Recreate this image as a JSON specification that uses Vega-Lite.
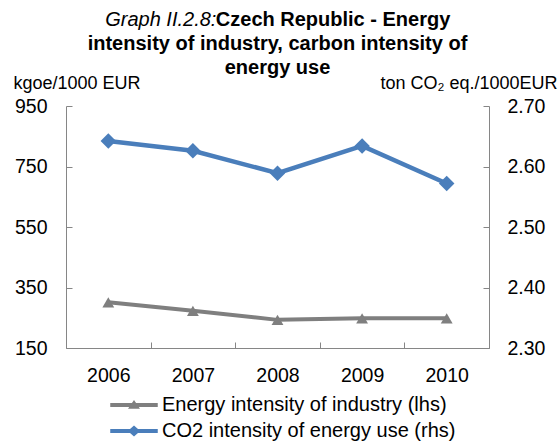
{
  "$schema": "https://vega.github.io/schema/vega-lite/v6.json",
  "width": 423,
  "height": 242,
  "autosize": "none",
  "padding": {"left": 66, "top": 106, "right": 69, "bottom": 96},
  "background": "white",
  "config": {
    "font": "Liberation Sans",
    "view": {"stroke": null},
    "axis": {
      "grid": false,
      "domainColor": "#868686",
      "tickColor": "#868686",
      "labelColor": "#000000",
      "labelFontSize": 19.5,
      "titleFontSize": 18,
      "titleFontWeight": "normal",
      "titleColor": "#000000"
    }
  },
  "title": {
    "text": "Graph II.2.8:\u00a0\u00a0\u00a0\u00a0\u00a0\u00a0\u00a0\u00a0\u00a0\u00a0\u00a0\u00a0\u00a0\u00a0\u00a0\u00a0\u00a0\u00a0\u00a0\u00a0\u00a0\u00a0\u00a0\u00a0\u00a0\u00a0\u00a0\u00a0\u00a0\u00a0\u00a0\u00a0\u00a0\u00a0\u00a0\u00a0\u00a0\u00a0\u00a0\u00a0\u00a0\u00a0\u200b",
    "subtitle": [
      "\u200b\u00a0\u00a0\u00a0\u00a0\u00a0\u00a0\u00a0\u00a0\u00a0\u00a0\u00a0\u00a0\u00a0\u00a0\u00a0\u00a0\u00a0\u00a0\u00a0\u00a0Czech Republic - Energy",
      "intensity of industry, carbon intensity of",
      "energy use"
    ],
    "fontSize": 20,
    "fontStyle": "italic",
    "fontWeight": "normal",
    "color": "#000000",
    "subtitleFontSize": 20,
    "subtitleFontWeight": "bold",
    "subtitleFontStyle": "normal",
    "subtitleColor": "#000000",
    "subtitlePadding": -20,
    "subtitleLineHeight": 24,
    "anchor": "middle",
    "frame": "group",
    "offset": -4
  },
  "data": {
    "values": [
      {"year": "2006", "energy": 301, "co2": 2.642},
      {"year": "2007", "energy": 273, "co2": 2.626},
      {"year": "2008", "energy": 243, "co2": 2.589},
      {"year": "2009", "energy": 248, "co2": 2.634},
      {"year": "2010", "energy": 248, "co2": 2.572}
    ]
  },
  "encoding": {
    "x": {
      "field": "year",
      "type": "ordinal",
      "scale": {"type": "band", "paddingInner": 0, "paddingOuter": 0},
      "bandPosition": 0.5,
      "axis": {
        "title": null,
        "labelAngle": 0,
        "tickBand": "extent",
        "tickSize": -6,
        "labelPadding": 24
      }
    }
  },
  "layer": [
    {
      "mark": {
        "type": "line",
        "strokeWidth": 4,
        "point": {"shape": "triangle-up", "size": 140, "filled": true, "opacity": 1}
      },
      "encoding": {
        "y": {
          "field": "energy",
          "type": "quantitative",
          "scale": {"domain": [150, 950], "nice": false, "zero": false},
          "axis": {
            "orient": "left",
            "values": [150, 350, 550, 750, 950],
            "title": "kgoe/1000 EUR",
            "titleAngle": 0,
            "titleAlign": "left",
            "titleBaseline": "alphabetic",
            "titleX": -53,
            "titleY": -18,
            "tickSize": -6,
            "labelPadding": 25
          }
        },
        "color": {
          "datum": "Energy intensity of industry (lhs)",
          "type": "nominal",
          "scale": {
            "domain": ["Energy intensity of industry (lhs)", "CO2 intensity of energy use (rhs)"],
            "range": ["#7F7F7F", "#4A7EBB"]
          },
          "legend": {
            "orient": "none",
            "legendX": 55.5,
            "legendY": 286.5,
            "direction": "vertical",
            "title": null,
            "padding": 0,
            "rowPadding": 3,
            "labelFontSize": 20,
            "labelColor": "#000000",
            "labelLimit": 0,
            "labelOffset": 15.5,
            "symbolSize": 625,
            "encoding": {
              "symbols": {
                "shape": {"value": {"expr": "datum.value === 'Energy intensity of industry (lhs)' ? 'M-1.9,-0.16L1.9,-0.16L1.9,0.16L-1.9,0.16Z M-0.48,0.3L0,-0.4L0.48,0.3Z' : 'M-1.9,-0.16L1.9,-0.16L1.9,0.16L-1.9,0.16Z M-0.5,0L0,-0.44L0.5,0L0,0.44Z'"}},
                "fill": {"value": {"expr": "datum.value === 'Energy intensity of industry (lhs)' ? '#7F7F7F' : '#4A7EBB'"}},
                "strokeWidth": {"value": 0},
                "opacity": {"value": 1}
              }
            }
          }
        }
      }
    },
    {
      "mark": {
        "type": "line",
        "strokeWidth": 4.5,
        "point": {"shape": "diamond", "size": 240, "filled": true, "opacity": 1}
      },
      "encoding": {
        "y": {
          "field": "co2",
          "type": "quantitative",
          "scale": {"domain": [2.3, 2.7], "nice": false, "zero": false},
          "axis": {
            "orient": "right",
            "values": [2.3, 2.4, 2.5, 2.6, 2.7],
            "format": ".2f",
            "title": "ton CO\u2082 eq./1000EUR",
            "titleAngle": 0,
            "titleAlign": "right",
            "titleBaseline": "alphabetic",
            "titleX": 68,
            "titleY": -18,
            "tickSize": -6,
            "labelPadding": 24
          }
        },
        "color": {
          "datum": "CO2 intensity of energy use (rhs)",
          "type": "nominal"
        }
      }
    }
  ],
  "resolve": {"scale": {"y": "independent"}}
}
